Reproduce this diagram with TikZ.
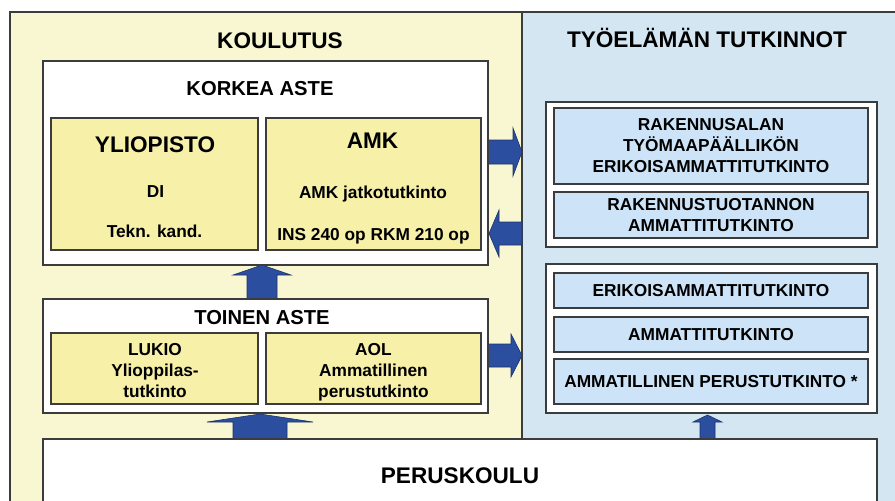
\documentclass[tikz,border=0pt]{standalone}
\usepackage{fontspec}
\setmainfont{Liberation Sans}
\definecolor{panelY}{HTML}{F9F7D2}
\definecolor{panelB}{HTML}{D4E6F2}
\definecolor{boxY}{HTML}{F6F0A8}
\definecolor{boxB}{HTML}{CDE4F8}
\definecolor{edge}{HTML}{3C3C3C}
\definecolor{arrowF}{HTML}{2B4E9E}
\definecolor{arrowD}{HTML}{1C3470}
\begin{document}
\begin{tikzpicture}[x=1pt,y=-1pt,
  frame/.style={draw=edge,line width=1.5pt},
  wbox/.style={draw=edge,line width=1.5pt,fill=white,inner sep=0pt,outer sep=0pt},
  ybox/.style={draw=edge,line width=1.5pt,fill=boxY,inner sep=0pt,outer sep=0pt},
  bbox/.style={draw=edge,line width=1.5pt,fill=boxB,inner sep=0pt,outer sep=0pt,align=center,
    font=\bfseries\fontsize{17.3}{21}\selectfont},
  big/.style={font=\bfseries\fontsize{22.6}{26}\selectfont,inner sep=0pt,anchor=base},
  mid/.style={font=\bfseries\fontsize{20.2}{24}\selectfont,inner sep=0pt,anchor=base},
  small/.style={font=\bfseries\fontsize{17.3}{21}\selectfont,inner sep=0pt,anchor=base},
  fatarrow/.style={fill=arrowF,draw=arrowD,line width=0.6pt,line join=miter}
]
\useasboundingbox (0,0) rectangle (895,501);
\begin{scope}
\clip (0,0) rectangle (895,501);
\fill[white] (0,0) rectangle (895,501);
\fill[panelY] (10,12) rectangle (522,520);
\fill[panelB] (522,12) rectangle (910,520);
\draw[frame] (10,520) -- (10,12) -- (910,12);
\draw[frame] (522,12) -- (522,520);

% titles
\node[big] (koulutus) at (280,48) {KOULUTUS};
\node[big] (tyo) at (707,47) {TYÖELÄMÄN TUTKINNOT};

% arrows
\draw[fatarrow] (488,140) -- (513,140) -- (513,128) -- (522,152) -- (513,176) -- (513,164) -- (488,164) -- cycle;
\draw[fatarrow] (522,222) -- (499,222) -- (499,210) -- (489,233.5) -- (499,257) -- (499,245) -- (522,245) -- cycle;
\draw[fatarrow] (488,344) -- (511,344) -- (511,334) -- (522,355.5) -- (511,377) -- (511,367) -- (488,367) -- cycle;
\draw[fatarrow] (247,299) -- (247,275) -- (233,275) -- (262,265) -- (291,275) -- (277,275) -- (277,299) -- cycle;
\draw[fatarrow] (233,439) -- (233,422) -- (207,422) -- (260,414) -- (313,422) -- (287,422) -- (287,439) -- cycle;
\draw[fatarrow] (700,439) -- (700,422) -- (693,422) -- (707.5,415) -- (722,422) -- (715,422) -- (715,439) -- cycle;

% KORKEA ASTE
\node[wbox,minimum width=445pt,minimum height=204pt] (korkea) at (265.5,163) {};
\node[mid] (korkeaT) at (260,95) {KORKEA ASTE};
\node[ybox,minimum width=207pt,minimum height=132pt] (ylio) at (154.5,184) {};
\node[ybox,minimum width=215pt,minimum height=132pt] (amk) at (373.5,184) {};
\node[big] (ylioT) at (155,152) {YLIOPISTO};
\node[small] (di) at (155.5,197) {DI};
\node[small] (tekn) at (154.5,237) {Tekn. kand.};
\node[big] (amkT) at (372.5,148) {AMK};
\node[small] (jatko) at (373,198) {AMK jatkotutkinto};
\node[small] (ins) at (373.5,240) {INS 240 op RKM 210 op};

% TOINEN ASTE
\node[wbox,minimum width=445pt,minimum height=114pt] (toinen) at (265.5,356) {};
\node[mid] (toinenT) at (262,324) {TOINEN ASTE};
\node[ybox,minimum width=207pt,minimum height=71pt] (lukio) at (154.5,368.5) {};
\node[ybox,minimum width=215pt,minimum height=71pt] (aol) at (373.5,368.5) {};
\node[small] (lukio1) at (155,355) {LUKIO};
\node[small] (lukio2) at (155,376) {Ylioppilas-};
\node[small] (lukio3) at (155,397) {tutkinto};
\node[small] (aol1) at (373.5,355) {AOL};
\node[small] (aol2) at (373.5,376) {Ammatillinen};
\node[small] (aol3) at (373.5,397) {perustutkinto};

% right side
\node[wbox,minimum width=331pt,minimum height=145pt] (upperR) at (711.5,174.5) {};
\node[bbox,minimum width=314pt,minimum height=76pt] (rak1) at (711,146) {RAKENNUSALAN\\TYÖMAAPÄÄLLIKÖN\\ERIKOISAMMATTITUTKINTO};
\node[bbox,minimum width=314pt,minimum height=46pt] (rak2) at (711,215) {RAKENNUSTUOTANNON\\AMMATTITUTKINTO};
\node[wbox,minimum width=331pt,minimum height=149pt] (lowerR) at (711.5,338.5) {};
\node[bbox,minimum width=314pt,minimum height=35pt] (erik) at (711,290.5) {ERIKOISAMMATTITUTKINTO};
\node[bbox,minimum width=314pt,minimum height=35pt] (amt) at (711,334.5) {AMMATTITUTKINTO};
\node[bbox,minimum width=314pt,minimum height=45pt] (ammper) at (711,381.5) {AMMATILLINEN PERUSTUTKINTO *};

% PERUSKOULU
\node[wbox,minimum width=834pt,minimum height=81pt] (perus) at (460,479.5) {};
\node[big] (perusT) at (460,483) {PERUSKOULU};
\end{scope}
\end{tikzpicture}
\end{document}
